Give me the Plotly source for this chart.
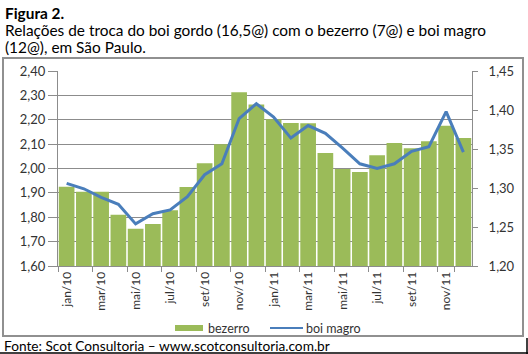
import plotly.graph_objects as go

months = ["jan/10","fev/10","mar/10","abr/10","mai/10","jun/10","jul/10","ago/10","set/10","out/10","nov/10","dez/10",
          "jan/11","fev/11","mar/11","abr/11","mai/11","jun/11","jul/11","ago/11","set/11","out/11","nov/11","dez/11"]
bezerro = [1.925, 1.905, 1.905, 1.810, 1.753, 1.772, 1.829, 1.924, 2.022, 2.100, 2.313, 2.263,
           2.202, 2.187, 2.186, 2.064, 1.998, 1.986, 2.054, 2.105, 2.083, 2.112, 2.175, 2.125]
boi_magro = [1.306, 1.299, 1.288, 1.279, 1.254, 1.267, 1.272, 1.289, 1.317, 1.331, 1.389, 1.408,
             1.391, 1.364, 1.380, 1.370, 1.351, 1.331, 1.325, 1.331, 1.347, 1.353, 1.398, 1.346]
tick_months = months[::2]

W, H = 528, 354
L, R, T, B = 58, 472, 71, 266

def px(x):
    return (x - L) / (R - L)

def py(y):
    return (B - y) / (B - T)

GREEN = "#9BBB59"
BLUE = "#4A7EBB"
GRID = "#8C8C8C"
FONT = "Lato"

fig = go.Figure()
fig.add_trace(go.Bar(x=months, y=bezerro, name="bezerro", marker=dict(color=GREEN, line=dict(width=0)),
                     showlegend=False))
fig.add_trace(go.Scatter(x=months, y=boi_magro, name="boi magro", yaxis="y2", mode="lines",
                         line=dict(color=BLUE, width=3), showlegend=False))

fig.update_layout(
    width=W, height=H,
    margin=dict(l=L, r=W - R, t=T, b=H - B),
    paper_bgcolor="white", plot_bgcolor="white",
    separators=",.",
    bargap=0.09,
    font=dict(family=FONT, color="#333333"),
    xaxis=dict(type="category", tickmode="array", tickvals=tick_months, ticktext=tick_months,
               tickangle=-90, ticks="outside", ticklen=5, tickcolor=GRID, tickson="boundaries",
               showline=True, linecolor=GRID, linewidth=1, showgrid=False,
               tickfont=dict(size=12, family=FONT, color="#333333"), range=[-0.5, 23.5]),
    yaxis=dict(range=[1.6, 2.4], dtick=0.1, tickformat=".2f", showgrid=True, gridcolor=GRID, gridwidth=1,
               ticks="outside", ticklen=9, tickcolor=GRID, showline=True, linecolor=GRID, linewidth=1,
               tickfont=dict(size=13, family=FONT, color="#333333"), zeroline=False),
    yaxis2=dict(range=[1.2, 1.45], dtick=0.05, tickformat=".2f", overlaying="y", side="right",
                showgrid=False, ticks="outside", ticklen=5, tickcolor=GRID, showline=True, linecolor=GRID,
                linewidth=1, ticklabelstandoff=8, zeroline=False,
                tickfont=dict(size=13, family=FONT, color="#333333")),
)

shapes = []
# chart border box
shapes.append(dict(type="rect", xref="paper", yref="paper", x0=px(3), x1=px(523), y0=py(58), y1=py(336),
                   line=dict(color="#909090", width=2), fillcolor="rgba(0,0,0,0)", layer="below"))
# outer frame lines (bottom/right)
shapes.append(dict(type="line", xref="paper", yref="paper", x0=px(0), x1=px(528), y0=py(353), y1=py(353),
                   line=dict(color="black", width=1.5)))
shapes.append(dict(type="line", xref="paper", yref="paper", x0=px(527), x1=px(527), y0=py(338), y1=py(354),
                   line=dict(color="black", width=1.5)))
# legend symbols
shapes.append(dict(type="rect", xref="paper", yref="paper", x0=px(175), x1=px(203), y0=py(331), y1=py(325),
                   line=dict(width=0), fillcolor=GREEN))
shapes.append(dict(type="line", xref="paper", yref="paper", x0=px(270), x1=px(303), y0=py(328), y1=py(328),
                   line=dict(color=BLUE, width=2)))
fig.update_layout(shapes=shapes)

ann = []
ann.append(dict(text="<b>Figura 2.</b>", x=px(3), y=py(13), xref="paper", yref="paper", xanchor="left",
                yanchor="middle", showarrow=False, font=dict(size=15.4, family=FONT, color="black")))
ann.append(dict(text="Relações de troca do boi gordo (16,5@) com o bezerro (7@) e boi magro",
                x=px(3), y=py(30), xref="paper", yref="paper", xanchor="left", yanchor="middle",
                showarrow=False, font=dict(size=15.4, family=FONT, color="black")))
ann.append(dict(text="(12@), em São Paulo.", x=px(3), y=py(47), xref="paper", yref="paper", xanchor="left",
                yanchor="middle", showarrow=False, font=dict(size=15.4, family=FONT, color="black")))
ann.append(dict(text="bezerro", x=px(206), y=py(328), xref="paper", yref="paper", xanchor="left",
                yanchor="middle", showarrow=False, font=dict(size=12.5, family=FONT, color="#333333")))
ann.append(dict(text="boi magro", x=px(304), y=py(328), xref="paper", yref="paper", xanchor="left",
                yanchor="middle", showarrow=False, font=dict(size=12.5, family=FONT, color="#333333")))
ann.append(dict(text="Fonte: Scot Consultoria – www.scotconsultoria.com.br", x=px(2), y=py(345),
                xref="paper", yref="paper", xanchor="left", yanchor="middle", showarrow=False,
                font=dict(size=13.7, family=FONT, color="black")))
fig.update_layout(annotations=ann)

fig.write_html("out.html")
